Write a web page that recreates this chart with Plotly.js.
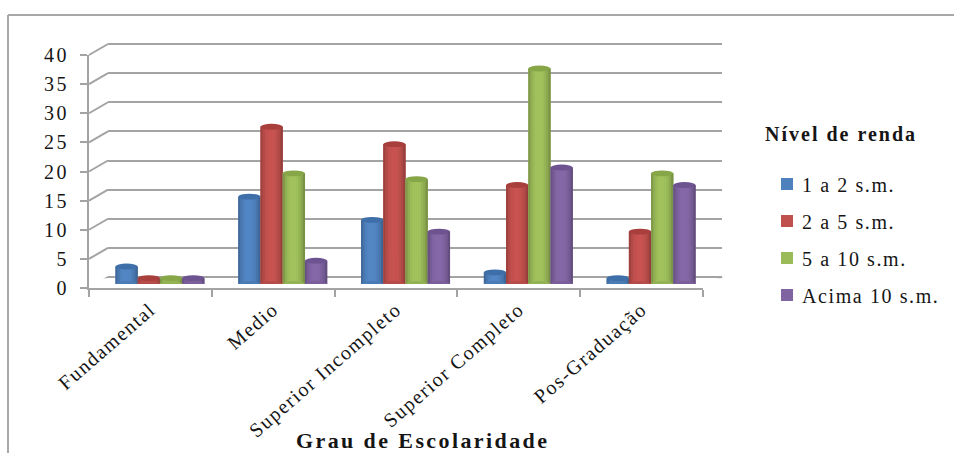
<!DOCTYPE html>
<html>
<head>
<meta charset="utf-8">
<script src="https://cdn.plot.ly/plotly-3.0.1.min.js"></script>
<style>
  html, body { margin: 0; padding: 0; background: #fff; }
  /* widen the serif labels */
  .legendtext { letter-spacing: 1.6px; transform: translateX(-5px); }
  .y2tick text { letter-spacing: 2.5px; }
  .x2tick text { letter-spacing: 1.5px; }
  .annotation[data-index="0"] text { letter-spacing: 2px; }
  .annotation[data-index="1"] text { letter-spacing: 2.4px; }
</style>
</head>
<body>
<div id="chart" style="width:954px;height:453px"></div>
<script>
const W = 954, H = 453;

const categories = ['Fundamental', 'Medio', 'Superior Incompleto', 'Superior Completo', 'Pos-Graduação'];
const seriesNames = ['1 a 2 s.m.', '2 a 5 s.m.', '5 a 10 s.m.', 'Acima 10 s.m.'];
const faixa1a2 = [3, 15, 11, 2, 1];
const faixa2a5 = [1, 27, 24, 17, 9];
const faixa5a10 = [1, 19, 18, 37, 19];
const acima10 = [1, 4, 9, 20, 17];
const yTicks = [0, 5, 10, 15, 20, 25, 30, 35, 40];

const seriesValues = [faixa1a2, faixa2a5, faixa5a10, acima10];
const baseColors = ['#4f81bd', '#c0504d', '#9bbb59', '#8064a2'];
const topColors = ['#3f6fa8', '#a83f3c', '#86a648', '#6d5390'];
// Cylinder shading from the left edge to the right edge, as colour multipliers
const shading = [0.82, 0.93, 1.0, 1.03, 1.04, 1.04, 1.02, 0.97, 0.9, 0.78];

const BAR_W = 0.181;
const GROUP_START = -0.362;
const ELLIPSE_RY = 0.5;       // half height of a cylinder cap, in value units

// Pixel layout of the three depth planes of the pseudo-3D box
const PX_PER_UNIT = 233 / 40;
const WALL_PAD = 0.2;         // keeps the 0 and 40 gridlines inside the wall's range
const frontX = [89, 703], frontY = [55, 288];
const wallX = [108, 722], wallY = [44 - WALL_PAD * PX_PER_UNIT, 277 + WALL_PAD * PX_PER_UNIT];
const barX = [98.5, 712.5], barY = [51, 284];
const DEPTH_UNITS = 11 / PX_PER_UNIT;

const domX = p => [p[0] / W, p[1] / W];
const domY = p => [1 - p[1] / H, 1 - p[0] / H];

function shade(hex, m) {
  const n = parseInt(hex.slice(1), 16);
  const c = [n >> 16, (n >> 8) & 255, n & 255].map(v => Math.max(0, Math.min(255, Math.round(v * m))));
  return `rgb(${c[0]},${c[1]},${c[2]})`;
}

const traces = [];
// Invisible carriers keep the wall and front axes alive
traces.push({ type: 'scatter', mode: 'none', x: categories, y: categories.map(() => 0), xaxis: 'x', yaxis: 'y', showlegend: false, hoverinfo: 'skip' });
traces.push({ type: 'scatter', mode: 'none', x: categories, y: categories.map(() => 0), xaxis: 'x2', yaxis: 'y2', showlegend: false, hoverinfo: 'skip' });

const shapes = [];
seriesValues.forEach((vals, s) => {
  const left = GROUP_START + s * BAR_W;
  traces.push({
    type: 'bar', name: seriesNames[s], x: categories, y: vals, xaxis: 'x3', yaxis: 'y3',
    width: BAR_W, offset: left, marker: { color: baseColors[s], line: { width: 0 } },
    legendgroup: seriesNames[s]
  });
  const stripW = BAR_W / shading.length;
  shading.forEach((m, k) => {
    traces.push({
      type: 'bar', x: categories, y: vals, xaxis: 'x3', yaxis: 'y3',
      width: stripW + 0.001, offset: left + k * stripW,
      marker: { color: shade(baseColors[s], m), line: { width: 0 } },
      showlegend: false, hoverinfo: 'skip', legendgroup: seriesNames[s]
    });
  });
  vals.forEach((v, i) => {
    const x0 = i + left, x1 = x0 + BAR_W;
    // Bottom cap, then top cap of the cylinder
    shapes.push({ type: 'circle', xref: 'x3', yref: 'y3', x0, x1, y0: -ELLIPSE_RY, y1: ELLIPSE_RY,
      fillcolor: shade(baseColors[s], 0.95), line: { width: 0 }, layer: 'above' });
    shapes.push({ type: 'circle', xref: 'x3', yref: 'y3', x0, x1, y0: v - ELLIPSE_RY, y1: v + ELLIPSE_RY,
      fillcolor: topColors[s], line: { width: 0 }, layer: 'above' });
  });
});

const gridGray = '#a3a3a3';
// Diagonals joining the front axis ticks to the back wall gridlines
const depthX = (frontX[0] - wallX[0]) / (wallX[1] - wallX[0]);
yTicks.forEach(t => {
  shapes.push({ type: 'line', xref: 'x domain', yref: 'y', x0: depthX, x1: 0, y0: t - DEPTH_UNITS, y1: t,
    line: { color: gridGray, width: 2 }, layer: 'below' });
});
// Right edge of the floor
shapes.push({ type: 'line', xref: 'x domain', yref: 'y', x0: 1 + depthX, x1: 1, y0: -DEPTH_UNITS, y1: 0,
  line: { color: gridGray, width: 2 }, layer: 'below' });
// Outer frame of the figure, open on the right and bottom
shapes.push({ type: 'line', xref: 'paper', yref: 'paper', x0: 8 / W, x1: 1, y0: 1 - 15 / H, y1: 1 - 15 / H,
  line: { color: '#a8a8a8', width: 2 } });
shapes.push({ type: 'line', xref: 'paper', yref: 'paper', x0: 8 / W, x1: 8 / W, y0: 0, y1: 1 - 15 / H,
  line: { color: '#a8a8a8', width: 2 } });

const hiddenAxis = { showgrid: false, zeroline: false, showticklabels: false, ticks: '', showline: false };
const serif = '"Liberation Serif", "Times New Roman", serif';
const ink = '#151515';

const layout = {
  width: W, height: H,
  margin: { l: 0, r: 0, t: 0, b: 0 },
  paper_bgcolor: '#fff', plot_bgcolor: 'rgba(0,0,0,0)',
  barmode: 'overlay',
  showlegend: true,
  font: { family: serif, color: ink },
  // Back wall: horizontal gridlines only
  xaxis: Object.assign({ domain: domX(wallX), anchor: 'y', type: 'category', categoryorder: 'array', categoryarray: categories, range: [-0.5, 4.5] }, hiddenAxis),
  yaxis: { domain: domY(wallY), anchor: 'x', range: [-WALL_PAD, 40 + WALL_PAD], tickvals: yTicks, showgrid: true, gridcolor: gridGray, gridwidth: 2,
    zeroline: false, showticklabels: false, ticks: '', showline: false },
  // Front plane: value axis and category axis with their labels
  xaxis2: { domain: domX(frontX), anchor: 'y2', type: 'category', categoryorder: 'array', categoryarray: categories, range: [-0.5, 4.5], tickson: 'boundaries',
    ticks: 'outside', ticklen: 7, tickwidth: 2, tickcolor: gridGray, showgrid: false, zeroline: false,
    showline: true, linecolor: gridGray, linewidth: 2, tickangle: -41, tickfont: { family: serif, size: 20, color: ink } },
  yaxis2: { domain: domY(frontY), anchor: 'x2', range: [0, 40], tickvals: yTicks, ticks: 'outside', ticklen: 7, tickwidth: 2, tickcolor: gridGray,
    ticklabelstandoff: 7, showgrid: false, zeroline: false, showline: true, linecolor: gridGray, linewidth: 2, tickfont: { family: serif, size: 20, color: ink } },
  // Middle plane: the cylinders stand here
  xaxis3: Object.assign({ domain: domX(barX), anchor: 'y3', type: 'category', categoryorder: 'array', categoryarray: categories, range: [-0.5, 4.5] }, hiddenAxis),
  yaxis3: Object.assign({ domain: domY(barY), anchor: 'x3', range: [0, 40] }, hiddenAxis),
  legend: {
    x: 767 / W, xanchor: 'left', y: 1 - 164.5 / H, yanchor: 'top',
    font: { family: serif, size: 20, color: ink },
    tracegroupgap: 8, traceorder: 'grouped', itemclick: false, itemdoubleclick: false,
    bgcolor: 'rgba(0,0,0,0)'
  },
  annotations: [
    { xref: 'paper', yref: 'paper', x: 841 / W, y: 1 - 134 / H, xanchor: 'center', yanchor: 'middle', showarrow: false,
      text: '<b>Nível de renda</b>', font: { family: serif, size: 20, color: ink } },
    { xref: 'paper', yref: 'paper', x: 423 / W, y: 1 - 440 / H, xanchor: 'center', yanchor: 'middle', showarrow: false,
      text: '<b>Grau de Escolaridade</b>', font: { family: serif, size: 22, color: ink } }
  ],
  shapes
};

Plotly.newPlot('chart', traces, layout, { displayModeBar: false, staticPlot: true });
</script>
</body>
</html>
